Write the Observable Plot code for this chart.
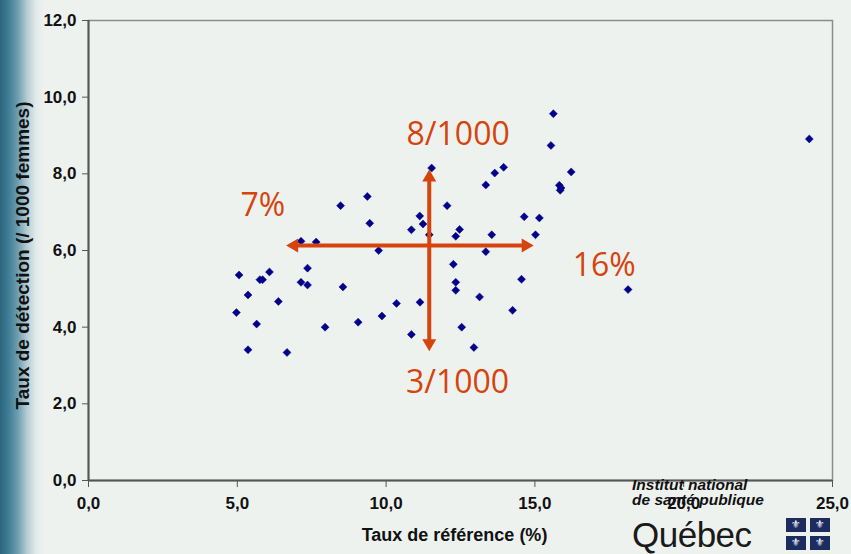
<!DOCTYPE html>
<html><head><meta charset="utf-8">
<script src="https://cdn.jsdelivr.net/npm/d3@7"></script>
<script src="https://cdn.jsdelivr.net/npm/@observablehq/plot@0.6"></script>
<style>
html,body{margin:0;padding:0;}
body{width:851px;height:554px;overflow:hidden;position:relative;
 background:linear-gradient(to right,#2c657d 0px,#417f97 9px,#6f9fb1 18px,#b5ccd2 27px,#e2eaea 36px,#eef2ef 44px);}
#chart{position:absolute;left:0;top:0;}
#logo{position:absolute;left:632px;top:476px;width:210px;height:78px;font-family:"Liberation Sans",Arial,sans-serif;color:#111;}
#logo .l1{position:absolute;left:0;top:1px;font-style:italic;font-weight:bold;font-size:15.5px;line-height:15px;white-space:nowrap;}
#logo .l2{position:absolute;left:0;top:16px;font-style:italic;font-weight:bold;font-size:15.5px;line-height:15px;white-space:nowrap;}
#logo .qc{position:absolute;left:0;top:41px;font-size:35px;line-height:36px;color:#1a1a1a;letter-spacing:-0.5px;}
#logo .f{position:absolute;width:20px;height:14px;background:#1d2c5e;color:#fff;font-size:11px;line-height:14px;text-align:center;font-family:"DejaVu Sans",sans-serif;}
</style></head><body>
<div id="chart"></div>
<div id="logo">
 <div class="l1">Institut national</div>
 <div class="l2">de santé publique</div>
 <div class="qc">Québec</div>
 <div class="f" style="left:154px;top:42px">⚜</div>
 <div class="f" style="left:178px;top:42px">⚜</div>
 <div class="f" style="left:154px;top:60px">⚜</div>
 <div class="f" style="left:178px;top:60px">⚜</div>
</div>
<script>
// Taux de référence (%) for each point
const refRate = [9.37, 8.47, 9.45, 10.85, 11.13, 7.14, 7.65, 9.75, 5.06, 6.08, 7.36, 5.76, 5.85, 7.14, 7.36, 8.55, 5.36, 6.38, 10.35, 11.14, 4.97, 9.86, 5.65, 9.06, 7.95, 10.85, 5.36, 6.67, 15.62, 15.54, 11.53, 13.95, 13.65, 16.22, 13.35, 15.82, 15.88, 15.85, 12.05, 14.64, 15.15, 11.24, 12.47, 12.34, 11.45, 13.55, 15.02, 13.35, 12.26, 14.55, 12.34, 12.34, 13.14, 14.25, 12.54, 12.95, 18.13, 24.22];
// Taux de détection (/1000 femmes) for each point
const detRate = [7.41, 7.17, 6.71, 6.54, 6.90, 6.24, 6.22, 6.00, 5.36, 5.44, 5.54, 5.24, 5.24, 5.17, 5.10, 5.05, 4.84, 4.67, 4.62, 4.65, 4.38, 4.29, 4.08, 4.13, 4.00, 3.81, 3.41, 3.34, 9.57, 8.74, 8.15, 8.17, 8.02, 8.05, 7.71, 7.70, 7.63, 7.57, 7.17, 6.88, 6.85, 6.69, 6.55, 6.37, 6.41, 6.41, 6.41, 5.97, 5.64, 5.25, 5.17, 4.96, 4.79, 4.44, 4.00, 3.47, 4.98, 8.91];

const xTicks = [0, 5, 10, 15, 20, 25];
const yTicks = [0, 2, 4, 6, 8, 10, 12];

// Range arrows (data units): horizontal 7% -> 16%, vertical 3/1000 -> 8/1000
const hArrow = {y: 6.13, xFrom: 6.64, xTo: 14.96};
const vArrow = {x: 11.45, yFrom: 3.37, yTo: 8.11};

// Annotation labels
const annText = ["8/1000", "7%", "16%", "3/1000"];
const annX = [12.42, 5.86, 17.33, 12.40];
const annY = [9.02, 7.17, 5.60, 2.56];

const points = refRate.map((x, i) => ({x, y: detRate[i]}));
const anns = annText.map((t, i) => ({t, x: annX[i], y: annY[i]}));

const accent = "#d6430c";
const fmt = d => d.toFixed(1).replace(".", ",");

// custom arrowhead symbols with tip at origin
const head = (dx, dy) => ({
  draw(ctx) {
    const L = 12, W = 7;
    const px = -dy, py = dx;
    ctx.moveTo(0, 0);
    ctx.lineTo(-dx * L + px * W, -dy * L + py * W);
    ctx.lineTo(-dx * L - px * W, -dy * L - py * W);
    ctx.closePath();
  }
});

const plot = Plot.plot({
  width: 851,
  height: 554,
  marginLeft: 88,
  marginTop: 20,
  marginRight: 19,
  marginBottom: 74,
  style: {background: "transparent", fontFamily: "'Liberation Sans', Arial, sans-serif", overflow: "visible"},
  x: {domain: [0, 25]},
  y: {domain: [0, 12]},
  marks: [
    Plot.frame({stroke: "#8c8c8c", strokeWidth: 1.5}),
    Plot.axisX({ticks: xTicks, tickFormat: fmt, tickSize: 7, tickPadding: 9, fontSize: 17, fontWeight: "bold", label: null, stroke: "#555", color: "#111"}),
    Plot.axisY({ticks: yTicks, tickFormat: fmt, tickSize: 6, tickPadding: 6, fontSize: 17, fontWeight: "bold", label: null, stroke: "#555", color: "#111"}),
    Plot.ruleX([0], {stroke: "#555", strokeWidth: 2}),
    Plot.ruleY([0], {stroke: "#555", strokeWidth: 2}),
    Plot.text(["Taux de référence (%)"], {frameAnchor: "bottom", textAnchor: "middle", dx: -6, dy: 60, fontSize: 18, fontWeight: "bold", fill: "#111"}),
    Plot.text(["Taux de détection (/ 1000 femmes)"], {frameAnchor: "left", textAnchor: "middle", dx: -66, dy: 5, rotate: -90, fontSize: 19, fontWeight: "bold", fill: "#111"}),
    Plot.dot(points, {x: "x", y: "y", symbol: "diamond2", r: 3.6, fill: "#00008b", stroke: "#00008b", strokeWidth: 0.5}),
    Plot.arrow([hArrow], {x1: "xFrom", x2: "xTo", y1: "y", y2: "y", stroke: accent, strokeWidth: 4, headLength: 0, insetStart: 8, insetEnd: 8}),
    Plot.arrow([vArrow], {x1: "x", x2: "x", y1: "yFrom", y2: "yTo", stroke: accent, strokeWidth: 4, headLength: 0, insetStart: 8, insetEnd: 8}),
    Plot.dot([hArrow], {x: "xTo", y: "y", symbol: head(1, 0), fill: accent, stroke: "none", r: 5}),
    Plot.dot([hArrow], {x: "xFrom", y: "y", symbol: head(-1, 0), fill: accent, stroke: "none", r: 5}),
    Plot.dot([vArrow], {x: "x", y: "yTo", symbol: head(0, -1), fill: accent, stroke: "none", r: 5}),
    Plot.dot([vArrow], {x: "x", y: "yFrom", symbol: head(0, 1), fill: accent, stroke: "none", r: 5}),
    Plot.text(anns, {x: "x", y: "y", text: "t", fill: accent, fontSize: 32, fontFamily: "'Open Sans', sans-serif", fontWeight: "normal"})
  ]
});
document.getElementById("chart").appendChild(plot);
</script>
</body></html>
